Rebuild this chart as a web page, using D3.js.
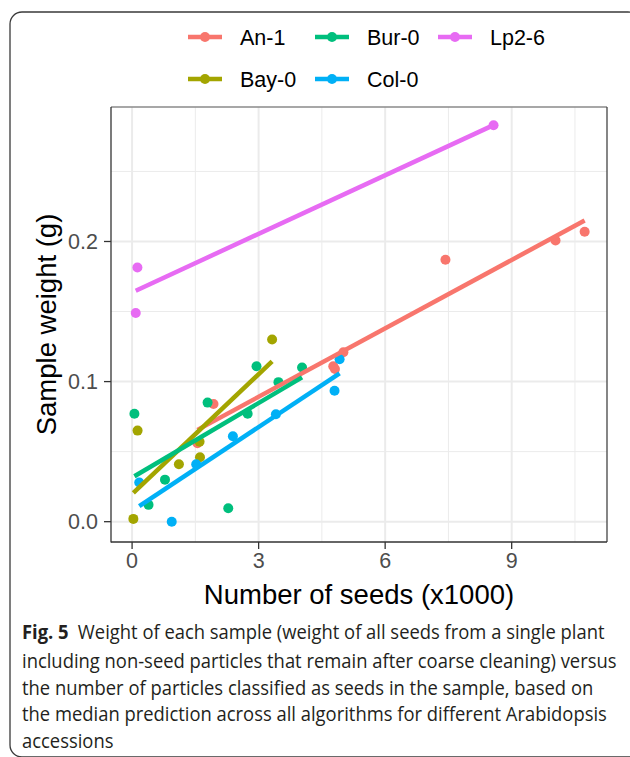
<!DOCTYPE html>
<html><head><meta charset="utf-8">
<script src="https://cdn.jsdelivr.net/npm/d3@7"></script>
<style>html,body{margin:0;padding:0;background:#fff;}svg{display:block;}</style>
</head><body>
<svg id="chart" width="630" height="757"></svg>
<script>
// ---- data ----
const seriesNames = ["An-1", "Bay-0", "Bur-0", "Col-0", "Lp2-6"];
const seriesColors = ["#F8766D", "#A3A500", "#00BF7D", "#00B0F6", "#E76BF3"];
const an1X = [1.55, 1.93, 4.77, 4.81, 5.01, 7.43, 10.04, 10.73];
const an1Y = [0.056, 0.084, 0.111, 0.109, 0.121, 0.187, 0.2007, 0.207];
const bay0X = [0.03, 0.13, 1.11, 1.60, 1.61, 3.32];
const bay0Y = [0.002, 0.065, 0.041, 0.057, 0.046, 0.130];
const bur0X = [0.055, 0.39, 0.78, 1.79, 2.28, 2.74, 2.95, 3.47, 4.03];
const bur0Y = [0.077, 0.012, 0.030, 0.085, 0.0096, 0.077, 0.111, 0.0996, 0.110];
const col0X = [0.17, 0.94, 1.52, 2.39, 3.41, 4.80, 4.92];
const col0Y = [0.028, 0.0, 0.041, 0.061, 0.0767, 0.0934, 0.116];
const lp26X = [0.087, 0.126, 8.57];
const lp26Y = [0.149, 0.1814, 0.283];
const xTicks = [0, 3, 6, 9];
const xTickLabels = ["0", "3", "6", "9"];
const xMinor = [1.5, 4.5, 7.5, 10.5];
const yTicks = [0, 0.1, 0.2];
const yTickLabels = ["0.0", "0.1", "0.2"];
const yMinor = [0.05, 0.15, 0.25];
const xTitle = "Number of seeds (x1000)";
const yTitle = "Sample weight (g)";
const captionLines = [
  ["Fig. 5", "Weight of each sample (weight of all seeds from a single plant"],
  ["", "including non-seed particles that remain after coarse cleaning) versus"],
  ["", "the number of particles classified as seeds in the sample, based on"],
  ["", "the median prediction across all algorithms for different Arabidopsis"],
  ["", "accessions"]
];

const allX = [an1X, bay0X, bur0X, col0X, lp26X];
const allY = [an1Y, bay0Y, bur0Y, col0Y, lp26Y];
const series = seriesNames.map((n, i) => ({
  name: n, color: seriesColors[i],
  pts: allX[i].map((x, j) => ({x, y: allY[i][j]}))
}));

// ---- layout ----
const svg = d3.select("#chart");
const P = {l: 111, r: 607, t: 107, b: 542};
const x = d3.scaleLinear().domain([-0.5, 11.26]).range([P.l, P.r]);
const y = d3.scaleLinear().domain([-0.0145, 0.296]).range([P.b, P.t]);
const sans = "'Liberation Sans', Arial, Helvetica, sans-serif";

// outer frame
svg.append("rect").attr("x", 10).attr("y", 12).attr("width", 630).attr("height", 745)
  .attr("rx", 12).attr("fill", "none").attr("stroke", "#3a3a3a").attr("stroke-width", 1.3);

// panel grid
const g = svg.append("g");
g.selectAll(".gxm").data(xMinor).join("line")
  .attr("x1", d => x(d)).attr("x2", d => x(d)).attr("y1", P.t).attr("y2", P.b)
  .attr("stroke", "#EBEBEB").attr("stroke-width", 1);
g.selectAll(".gym").data(yMinor).join("line")
  .attr("y1", d => y(d)).attr("y2", d => y(d)).attr("x1", P.l).attr("x2", P.r)
  .attr("stroke", "#EBEBEB").attr("stroke-width", 1);
g.selectAll(".gx").data(xTicks).join("line")
  .attr("x1", d => x(d)).attr("x2", d => x(d)).attr("y1", P.t).attr("y2", P.b)
  .attr("stroke", "#EBEBEB").attr("stroke-width", 2);
g.selectAll(".gy").data(yTicks).join("line")
  .attr("y1", d => y(d)).attr("y2", d => y(d)).attr("x1", P.l).attr("x2", P.r)
  .attr("stroke", "#EBEBEB").attr("stroke-width", 2);

// points
series.forEach(s => {
  svg.append("g").selectAll("circle").data(s.pts).join("circle")
    .attr("cx", d => x(d.x)).attr("cy", d => y(d.y)).attr("r", 5).attr("fill", s.color);
});

// regression lines
function lm(pts) {
  const mx = d3.mean(pts, d => d.x), my = d3.mean(pts, d => d.y);
  const sxy = d3.sum(pts, d => (d.x - mx) * (d.y - my));
  const sxx = d3.sum(pts, d => (d.x - mx) ** 2);
  const b = sxy / sxx, a = my - b * mx;
  const [x0, x1] = d3.extent(pts, d => d.x);
  return [{x: x0, y: a + b * x0}, {x: x1, y: a + b * x1}];
}
const line = d3.line().x(d => x(d.x)).y(d => y(d.y));
series.forEach(s => {
  svg.append("path").attr("d", line(lm(s.pts))).attr("fill", "none")
    .attr("stroke", s.color).attr("stroke-width", 4.5);
});

// panel border
svg.append("line").attr("x1", P.l).attr("x2", P.r).attr("y1", P.t).attr("y2", P.t)
  .attr("stroke", "#8a8a8a").attr("stroke-width", 1.3);
svg.append("line").attr("x1", P.r).attr("x2", P.r).attr("y1", P.t).attr("y2", P.b)
  .attr("stroke", "#444").attr("stroke-width", 1.3);
svg.append("line").attr("x1", P.l).attr("x2", P.l).attr("y1", P.t).attr("y2", P.b + 0.6)
  .attr("stroke", "#333").attr("stroke-width", 1.3);
svg.append("line").attr("x1", P.l).attr("x2", P.r).attr("y1", P.b).attr("y2", P.b)
  .attr("stroke", "#333").attr("stroke-width", 1.3);

// ticks
svg.selectAll(".tx").data(xTicks).join("line")
  .attr("x1", d => x(d)).attr("x2", d => x(d)).attr("y1", P.b).attr("y2", P.b + 7)
  .attr("stroke", "#333").attr("stroke-width", 1.3);
svg.selectAll(".ty").data(yTicks).join("line")
  .attr("y1", d => y(d)).attr("y2", d => y(d)).attr("x1", P.l - 7).attr("x2", P.l)
  .attr("stroke", "#333").attr("stroke-width", 1.3);
svg.selectAll(".txl").data(xTicks).join("text")
  .attr("x", d => x(d)).attr("y", 568).attr("text-anchor", "middle")
  .attr("font-family", sans).attr("font-size", 21.5).attr("fill", "#4D4D4D")
  .text((d, i) => xTickLabels[i]);
svg.selectAll(".tyl").data(yTicks).join("text")
  .attr("x", 98).attr("y", d => y(d) + 7.7).attr("text-anchor", "end")
  .attr("font-family", sans).attr("font-size", 21.5).attr("fill", "#4D4D4D")
  .text((d, i) => yTickLabels[i]);

// axis titles
svg.append("text").attr("x", (P.l + P.r) / 2).attr("y", 604).attr("text-anchor", "middle")
  .attr("font-family", sans).attr("font-size", 27.5).attr("fill", "#000").text(xTitle);
svg.append("text").attr("transform", `translate(56,${(P.t + P.b) / 2}) rotate(-90)`)
  .attr("text-anchor", "middle")
  .attr("font-family", sans).attr("font-size", 27.5).attr("fill", "#000").text(yTitle);

// legend (2 rows, column-major)
const colX = [188, 315, 438];
const rowY = [37, 79];
seriesNames.forEach((n, i) => {
  const col = Math.floor(i / 2), row = i % 2;
  const lx = colX[col], ly = rowY[row];
  const lg = svg.append("g");
  lg.append("line").attr("x1", lx).attr("x2", lx + 34).attr("y1", ly).attr("y2", ly)
    .attr("stroke", seriesColors[i]).attr("stroke-width", 4.5);
  lg.append("circle").attr("cx", lx + 17).attr("cy", ly).attr("r", 5).attr("fill", seriesColors[i]);
  lg.append("text").attr("x", lx + 52).attr("y", ly + 7.7)
    .attr("font-family", sans).attr("font-size", 21.5).attr("fill", "#000").text(n);
});

// caption (uniform horizontal condensing, fitted on the longest line)
const capBase = [639, 668, 695, 721, 748];
const capFont = "'Open Sans', 'Noto Sans', sans-serif";
const capNodes = captionLines.map((ln, i) => {
  const t = svg.append("text").attr("x", 0).attr("y", 0)
    .attr("font-family", capFont).attr("font-size", 20).attr("fill", "#231F20");
  if (ln[0]) {
    t.append("tspan").attr("font-weight", "bold").text(ln[0]);
    t.append("tspan").attr("dx", 10).text(ln[1]);
  } else {
    t.append("tspan").text(ln[1]);
  }
  return t;
});
const refW = capNodes[1].node().getComputedTextLength();
const sx = (617 - 22) / refW;
capNodes.forEach((t, i) => t.attr("transform", `translate(22,${capBase[i]}) scale(${sx},1)`));
</script>
</body></html>
